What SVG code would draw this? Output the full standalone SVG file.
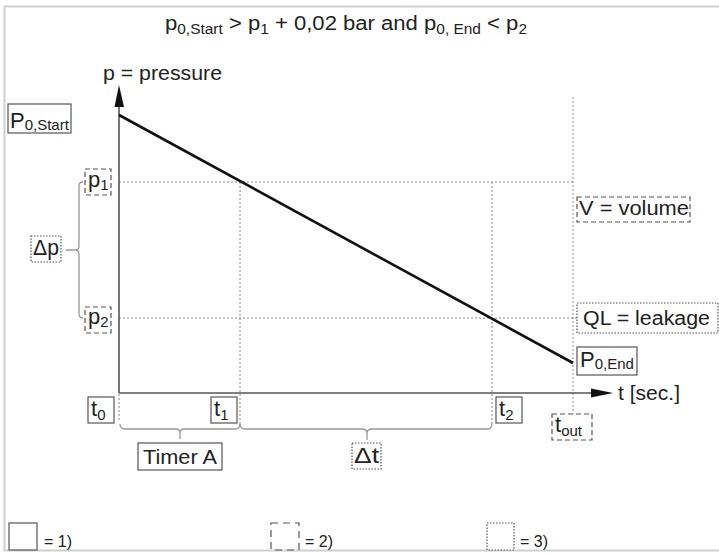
<svg xmlns="http://www.w3.org/2000/svg" width="719" height="553" viewBox="0 0 719 553">
<defs>
<style>
text{font-family:"Liberation Sans",Arial,sans-serif;fill:#222;}
.t{font-size:20px;}
.lb{font-size:22px;}
.big{font-size:22px;}
.sub{font-size:14px;}
.lsub{font-size:15px;}
.solid{fill:#fff;stroke:#555;stroke-width:1.2;}
.dash{fill:#fff;stroke:#555;stroke-width:1.2;stroke-dasharray:5,3;}
.ldash{fill:none;stroke:#555;stroke-width:1.2;stroke-dasharray:7,5;}
.dot{fill:#fff;stroke:#555;stroke-width:1.2;stroke-dasharray:1.5,1.5;}
.grid{fill:none;stroke:#888;stroke-width:1;stroke-dasharray:2,2;}
.brace{fill:none;stroke:#999;stroke-width:1.3;}
.axis{fill:none;stroke:#555;stroke-width:1.6;}
.leg{font-size:17px;}
</style>
</defs>
<rect x="0" y="0" width="719" height="553" fill="#fff"/>
<rect x="4.5" y="6.5" width="720" height="544" fill="none" stroke="#d0d0d0" stroke-width="2"/>

<text class="t" x="165" y="30" textLength="362" lengthAdjust="spacingAndGlyphs">p<tspan class="sub" dy="4">0,Start</tspan><tspan dy="-4"> &gt; p</tspan><tspan class="sub" dy="4">1</tspan><tspan dy="-4"> + 0,02 bar and p</tspan><tspan class="sub" dy="4">0, End</tspan><tspan dy="-4"> &lt; p</tspan><tspan class="sub" dy="4">2</tspan></text>

<g id="connectors">
  <line class="grid" x1="119" y1="182" x2="573" y2="182"/>
  <line class="grid" x1="119" y1="318" x2="577" y2="318"/>
  <line class="grid" x1="240" y1="182" x2="240" y2="424"/>
  <line class="grid" x1="492" y1="182" x2="492" y2="422"/>
  <line class="grid" x1="573" y1="97" x2="573" y2="414"/>
  <line class="grid" x1="119" y1="394" x2="119" y2="420"/>
  <line class="axis" x1="119" y1="100" x2="119" y2="393"/>
  <line class="axis" x1="119" y1="393" x2="600" y2="393"/>
  <polygon points="119,85 114.5,107 124,107" fill="#111"/>
  <polygon points="613,393 591,388.5 591,397.5" fill="#111"/>
  <line x1="119" y1="115" x2="573" y2="363" stroke="#111" stroke-width="2.6"/>
  <path class="brace" d="M83,182 Q79,182 79,186 L79,246 Q79,250 75,250 L66,250 M75,250 Q79,250 79,254 L79,314 Q79,318 83,318"/>
  <path class="brace" d="M120,424 Q120,429 125,429 L176,429 Q180,429 180,433 L180,439 M180,433 Q180,429 184,429 L235,429 Q240,429 240,424"/>
  <path class="brace" d="M240,424 Q240,429 245,429 L362,429 Q367,429 367,433 L367,440 M367,433 Q367,429 372,429 L488,429 Q492,429 492,422"/>
</g>

<text class="t" x="103" y="80" textLength="119" lengthAdjust="spacingAndGlyphs">p = pressure</text>
<text class="t" x="618" y="400" textLength="62" lengthAdjust="spacingAndGlyphs">t [sec.]</text>

<g id="p0start">
  <rect class="solid" x="8" y="104" width="63" height="29"/>
  <text class="big" x="10" y="128">P<tspan class="lsub" dy="2">0,Start</tspan></text>
</g>
<g id="p1">
  <rect class="dash" x="85" y="169" width="26" height="26"/>
  <text class="lb" x="88" y="187">p<tspan class="lsub" dy="3">1</tspan></text>
</g>
<g id="p2">
  <rect class="dash" x="85" y="307" width="26" height="26"/>
  <text class="lb" x="88" y="324">p<tspan class="lsub" dy="3">2</tspan></text>
</g>
<g id="deltap">
  <rect class="dot" x="31" y="236" width="30" height="26"/>
  <text class="lb" x="33" y="255" textLength="26" lengthAdjust="spacingAndGlyphs">Δp</text>
</g>
<g id="volume">
  <rect class="dash" x="577" y="197" width="113" height="25"/>
  <text class="t" x="579" y="215" textLength="110" lengthAdjust="spacingAndGlyphs">V = volume</text>
</g>
<g id="leakage">
  <rect class="dot" x="577" y="303" width="141" height="30"/>
  <text class="t" x="583" y="325" textLength="127" lengthAdjust="spacingAndGlyphs">QL = leakage</text>
</g>
<g id="p0end">
  <rect class="solid" x="577" y="347" width="60" height="28"/>
  <text class="big" x="580" y="367">P<tspan class="lsub" dy="2">0,End</tspan></text>
</g>
<g id="t0">
  <rect class="solid" x="88" y="397" width="26" height="26"/>
  <text class="lb" x="91" y="416">t<tspan class="lsub" dy="4">0</tspan></text>
</g>
<g id="t1">
  <rect class="solid" x="211" y="397" width="26" height="26"/>
  <text class="lb" x="214" y="416">t<tspan class="lsub" dy="4">1</tspan></text>
</g>
<g id="t2">
  <rect class="solid" x="496" y="397" width="26" height="26"/>
  <text class="lb" x="499" y="416">t<tspan class="lsub" dy="4">2</tspan></text>
</g>
<g id="tout">
  <rect class="dash" x="552" y="414" width="40" height="26"/>
  <text class="lb" x="555" y="432">t<tspan class="lsub" dy="4">out</tspan></text>
</g>
<g id="timerA">
  <rect class="solid" x="138" y="443" width="84" height="27"/>
  <text class="t" x="143" y="464" textLength="74" lengthAdjust="spacingAndGlyphs">Timer A</text>
</g>
<g id="deltat">
  <rect class="dot" x="352" y="443" width="29" height="26"/>
  <text class="lb" x="354" y="463" textLength="25" lengthAdjust="spacingAndGlyphs">Δt</text>
</g>

<g id="legend1">
  <rect class="solid" x="9" y="523" width="28" height="27"/>
  <text class="leg" x="44" y="547" textLength="28" lengthAdjust="spacingAndGlyphs">= 1)</text>
</g>
<g id="legend2">
  <rect class="ldash" x="271" y="523" width="28" height="27"/>
  <text class="leg" x="305" y="547" textLength="28" lengthAdjust="spacingAndGlyphs">= 2)</text>
</g>
<g id="legend3">
  <rect class="dot" x="487" y="523" width="27" height="27"/>
  <text class="leg" x="520" y="547" textLength="28" lengthAdjust="spacingAndGlyphs">= 3)</text>
</g>
</svg>
